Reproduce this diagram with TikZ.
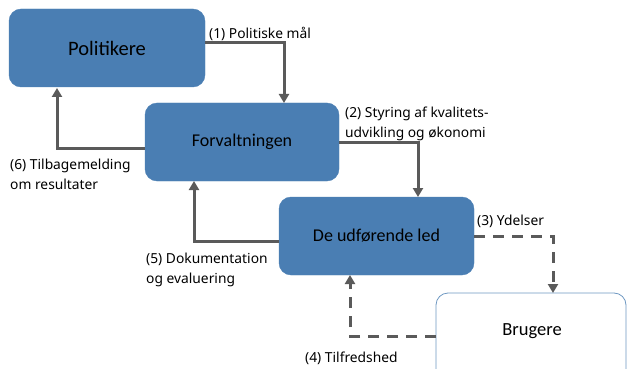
\documentclass[tikz,border=0pt]{standalone}
\usepackage{fontspec}
\setmainfont{Carlito}
\newfontfamily\lblfont{Noto Sans}
\usetikzlibrary{arrows.meta}
\definecolor{boxblue}{HTML}{4A7EB3}
\definecolor{linegray}{HTML}{5A5A5A}
\tikzset{
  bluebox/.style={draw=boxblue, fill=boxblue, rounded corners=12pt, inner sep=0pt, font=\fontsize{18}{21}\selectfont},
  whitebox/.style={draw=boxblue!80, fill=white, line width=0.8pt, rounded corners=12pt},
  conn/.style={draw=linegray, line width=3pt, -{Triangle[width=10pt,length=9pt]}},
  dconn/.style={conn, dash pattern=on 11pt off 8pt},
  lbl/.style={font=\lblfont\fontsize{13.8}{20}\selectfont, align=left, inner sep=0pt, anchor=north west}
}
\begin{document}
\begin{tikzpicture}[x=1pt,y=-1pt]
\useasboundingbox (0,0) rectangle (627,369);
\begin{scope}
\clip (0,0) rectangle (627,369);
\draw[whitebox] (436,293) rectangle (626,400);
\end{scope}
\node (brtxt) at (532,331) {\fontsize{18.5}{21}\selectfont Brugere};
\node[bluebox, minimum width=196pt, minimum height=78pt, font=\fontsize{20.5}{24}\selectfont] (pol) at (107,48) {Politikere};
\node[bluebox, minimum width=194pt, minimum height=78pt] (forv) at (242,142) {Forvaltningen};
\node[bluebox, minimum width=195pt, minimum height=78pt] (udf) at (376.5,236) {De udførende led};
\coordinate (brl) at (436,336);
% connectors
\draw[conn] (pol.east |- 0,43) -| (284,103);
\draw[conn] (forv.east |- 0,142) -| (418,197);
\draw[dconn] (udf.east |- 0,236) -| (553,293);
\draw[dconn] (brl) -| (350,275);
\draw[conn] (udf.west |- 0,241) -| (194,181);
\draw[conn] (forv.west |- 0,148) -| (57,88);
% labels
\node[lbl] (l1) at (209,27) {(1) Politiske mål};
\node[lbl] (l2) at (345,107) {(2) Styring af kvalitets-\\udvikling og økonomi};
\node[lbl] (l3) at (477,215) {(3) Ydelser};
\node[lbl] (l4) at (305,352) {(4) Tilfredshed};
\node[lbl] (l5) at (146,253) {(5) Dokumentation\\og evaluering};
\node[lbl] (l6) at (10,159) {(6) Tilbagemelding\\om resultater};
\end{tikzpicture}
\end{document}
